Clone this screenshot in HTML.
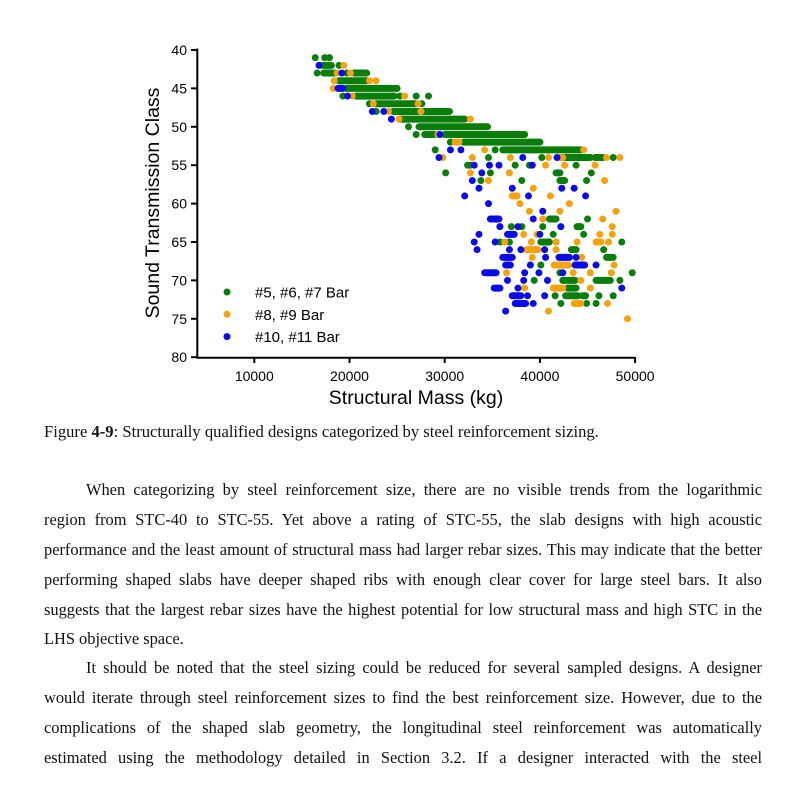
<!DOCTYPE html>
<html><head><meta charset="utf-8"><style>
body{margin:0;background:#fff;width:800px;height:800px;overflow:hidden;position:relative;font-family:"Liberation Serif",serif;}
svg{position:absolute;left:0;top:0}
.l{position:absolute;left:44px;width:718px;font-size:16.4px;line-height:20px;text-align:justify;text-align-last:justify;color:#111;margin:0;height:20px;overflow:visible}
.l.i{left:86px;width:676px}
.l.e{text-align-last:left}
</style></head><body>
<svg width="800" height="420" id="chart" font-family="Liberation Sans, sans-serif"></svg>
<div style="position:absolute;left:44px;top:422px;font-size:16.6px;color:#111">Figure <b>4-9</b>: Structurally qualified designs categorized by steel reinforcement sizing.</div>
<div>
<div class="l i" style="top:480px">When categorizing by steel reinforcement size, there are no visible trends from the logarithmic</div>
<div class="l" style="top:510px">region from STC-40 to STC-55. Yet above a rating of STC-55, the slab designs with high acoustic</div>
<div class="l" style="top:540px">performance and the least amount of structural mass had larger rebar sizes. This may indicate that the better</div>
<div class="l" style="top:570px">performing shaped slabs have deeper shaped ribs with enough clear cover for large steel bars. It also</div>
<div class="l" style="top:600px">suggests that the largest rebar sizes have the highest potential for low structural mass and high STC in the</div>
<div class="l e" style="top:629px">LHS objective space.</div>
</div>
<div>
<div class="l i" style="top:658px">It should be noted that the steel sizing could be reduced for several sampled designs. A designer</div>
<div class="l" style="top:688px">would iterate through steel reinforcement sizes to find the best reinforcement size. However, due to the</div>
<div class="l" style="top:718px">complications of the shaped slab geometry, the longitudinal steel reinforcement was automatically</div>
<div class="l" style="top:748px">estimated using the methodology detailed in Section 3.2. If a designer interacted with the steel</div>
</div>
<script>
const xTicks=[10000,20000,30000,40000,50000];
const yTicks=[40,45,50,55,60,65,70,75,80];
// runs: [massStart, massEnd, stc]
const greenRuns=[[17200,18100,42],[17300,18400,43],[20500,21800,43],[18900,21800,44],[19700,25000,45],[20700,24700,46],[22800,26900,47],[24600,27300,48],[27700,30500,48],[25300,32100,49],[27300,34500,50],[27900,28900,51],[30000,38400,51],[32000,33100,52],[33200,40000,52],[36100,44300,53],[42600,45300,54],[45800,46600,54],[41700,42100,56],[42100,42600,57],[43900,44300,63],[40100,41000,65],[43300,43800,66],[47000,47700,67],[42400,43700,70],[45900,47400,70],[42900,43800,71],[42700,44000,72],[44500,44800,72],[41000,41700,62]];
const orangeRuns=[[31100,31500,52],[42100,42400,54],[37100,37600,59],[38600,39800,66],[41500,43000,68],[41400,42400,71],[43600,44300,73],[45900,46400,65]];
const blueRuns=[[18800,19300,45],[34800,35700,62],[36600,37300,64],[36100,37100,67],[42000,43100,67],[36400,36900,68],[43700,44700,68],[34200,35400,69],[35200,35800,71],[37100,38000,72],[37400,38500,73]];
const greenPts=[[16400,41],[17400,41],[17900,41],[18900,42],[16600,43],[19700,43],[19300,46],[25300,46],[27000,46],[28300,46],[22100,47],[27600,47],[22800,48],[26200,50],[27000,51],[30600,52],[29000,53],[35300,53],[34600,54],[40200,54],[47700,54],[32400,55],[32700,55],[37400,55],[38900,55],[43800,55],[30100,56],[34800,56],[45400,56],[33800,57],[38100,57],[44900,57],[45000,62],[37000,63],[38100,63],[40300,63],[41400,64],[44600,64],[35800,65],[36800,65],[48600,65],[46700,66],[40100,68],[42100,69],[49700,69],[39400,70],[48400,70],[41600,72],[46200,72],[47700,72],[42200,73],[44900,73],[45900,73]];
const orangePts=[[19400,42],[18700,43],[20100,43],[18400,44],[22100,44],[22800,44],[18300,45],[20300,46],[25800,46],[22500,47],[27200,47],[24100,48],[27500,48],[25200,49],[32700,49],[29300,51],[34200,53],[44600,53],[29800,54],[32900,54],[36900,54],[40900,54],[47000,54],[48400,54],[40600,55],[42600,55],[45800,55],[32700,56],[36800,56],[34600,57],[46800,57],[39300,58],[41100,59],[37900,60],[43100,60],[38900,61],[42100,61],[48000,61],[40300,62],[46600,62],[47600,63],[38300,64],[39700,64],[46300,64],[47600,64],[36300,65],[39100,65],[41700,65],[43900,65],[47200,65],[41700,66],[39200,67],[44400,67],[47800,68],[36500,69],[43500,69],[45300,69],[47500,69],[40800,70],[44300,70],[38400,71],[45300,71],[47100,73],[40900,74],[49200,75]];
const bluePts=[[16800,42],[19200,43],[19800,46],[22400,48],[23600,48],[24400,49],[29500,51],[30600,53],[31700,53],[29400,54],[38200,54],[41800,54],[33100,55],[34700,55],[35700,55],[39200,55],[33900,56],[32900,57],[33600,58],[37100,58],[42300,58],[43600,58],[32100,59],[38800,59],[44800,59],[34600,60],[40300,61],[39300,62],[35800,63],[37700,63],[42200,63],[33600,64],[40000,64],[33100,65],[35300,65],[33400,66],[36800,66],[38000,66],[40500,66],[40600,67],[43800,67],[39000,68],[45900,68],[38400,69],[39900,69],[42400,69],[36600,70],[38300,70],[40800,70],[37700,71],[48600,71],[38700,72],[40500,72],[39300,73],[36400,74]];
const svg=document.getElementById('chart');const NS='http://www.w3.org/2000/svg';
const X=m=>159.1+m*0.00952;const Y=s=>50+(s-40)*7.68;
function mk(t,a,p){const e=document.createElementNS(NS,t);for(const k in a)e.setAttribute(k,a[k]);(p||svg).appendChild(e);return e;}
const ax=mk('g',{});


mk('line',{x1:197.3,y1:48.5,x2:197.3,y2:358,stroke:'#000','stroke-width':2},ax);
mk('line',{x1:196.3,y1:357.7,x2:635,y2:357.7,stroke:'#000','stroke-width':2},ax);
yTicks.forEach(v=>{mk('line',{x1:191,x2:197,y1:Y(v),y2:Y(v),stroke:'#000','stroke-width':2},ax);
const t=mk('text',{x:187,y:Y(v)+5,'text-anchor':'end','font-size':14},ax);t.textContent=v;

});
xTicks.forEach(v=>{mk('line',{x1:X(v),x2:X(v),y1:357,y2:363,stroke:'#000','stroke-width':2},ax);
const t=mk('text',{x:X(v),y:381,'text-anchor':'middle','font-size':14},ax);t.textContent=v;

});
const xt=mk('text',{x:416,y:404,'text-anchor':'middle','font-size':19.5});xt.textContent='Structural Mass (kg)';


const yt=mk('text',{x:0,y:0,'text-anchor':'middle','font-size':19.5,transform:'translate(159,203) rotate(-90)'});yt.textContent='Sound Transmission Class';


function series(runs,pts,col,name){const g=mk('g',{fill:col});


runs.forEach(r=>{const l=mk('line',{x1:X(r[0]),x2:X(r[1]),y1:Y(r[2]),y2:Y(r[2]),stroke:col,'stroke-width':7,'stroke-linecap':'round'},g);

});
pts.forEach(p=>{const c=mk('circle',{cx:X(p[0]),cy:Y(p[1]),r:3.5},g);

});}
series(greenRuns,greenPts,'#0a7d0a','series-5-6-7-bar');
series(orangeRuns,orangePts,'#f5a20f','series-8-9-bar');
series(blueRuns,bluePts,'#0a0ae6','series-10-11-bar');
const leg=[['#0a7d0a','#5, #6, #7 Bar'],['#f5a20f','#8, #9 Bar'],['#0a0ae6','#10, #11 Bar']];
const lg=mk('g',{});


leg.forEach((e,i)=>{const y=292+i*22.3;const g=mk('g',{},lg);


mk('circle',{cx:227,cy:y,r:3.5,fill:e[0]},g);const t=mk('text',{x:255,y:y+5.5,'font-size':15},g);t.textContent=e[1];});
</script>
</body></html>
